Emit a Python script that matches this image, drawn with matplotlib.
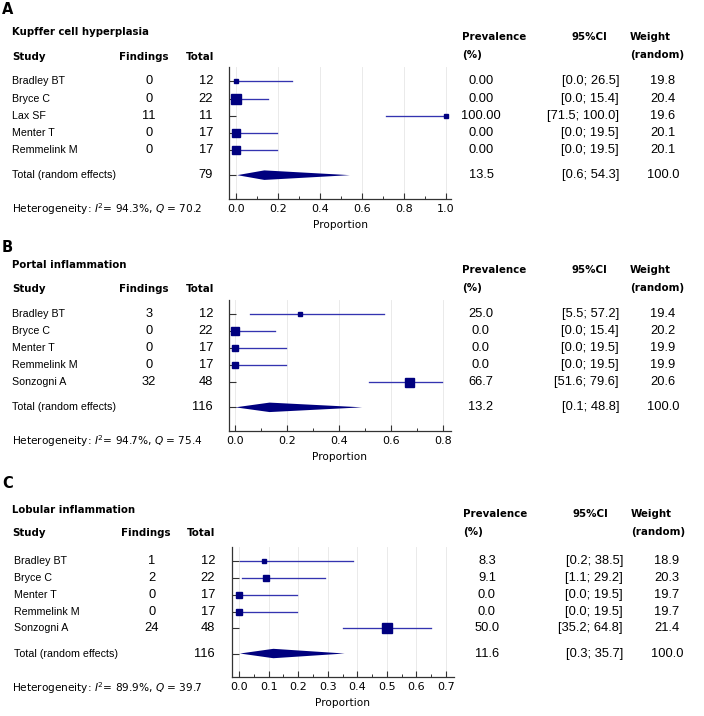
import matplotlib
matplotlib.use("Agg")
import matplotlib.pyplot as plt
import matplotlib.transforms as mtransforms
from matplotlib.ticker import MultipleLocator, FormatStrFormatter
import numpy as np

# ---- data ----
# A: Kupffer cell hyperplasia
a_title = "Kupffer cell hyperplasia"
a_study = ["Bradley BT", "Bryce C", "Lax SF", "Menter T", "Remmelink M"]
a_findings = [0, 0, 11, 0, 0]
a_total = [12, 22, 11, 17, 17]
a_prev = [0.00, 0.00, 100.00, 0.00, 0.00]
a_ci_lo = [0.0, 0.0, 71.5, 0.0, 0.0]
a_ci_hi = [26.5, 15.4, 100.0, 19.5, 19.5]
a_weight = [19.8, 20.4, 19.6, 20.1, 20.1]
a_pooled = [13.5, 0.6, 54.3]   # estimate, lower, upper
a_het = [94.3, 70.2]           # I2, Q

# B: Portal inflammation
b_title = "Portal inflammation"
b_study = ["Bradley BT", "Bryce C", "Menter T", "Remmelink M", "Sonzogni A"]
b_findings = [3, 0, 0, 0, 32]
b_total = [12, 22, 17, 17, 48]
b_prev = [25.0, 0.0, 0.0, 0.0, 66.7]
b_ci_lo = [5.5, 0.0, 0.0, 0.0, 51.6]
b_ci_hi = [57.2, 15.4, 19.5, 19.5, 79.6]
b_weight = [19.4, 20.2, 19.9, 19.9, 20.6]
b_pooled = [13.2, 0.1, 48.8]
b_het = [94.7, 75.4]

# C: Lobular inflammation
c_title = "Lobular inflammation"
c_study = ["Bradley BT", "Bryce C", "Menter T", "Remmelink M", "Sonzogni A"]
c_findings = [1, 2, 0, 0, 24]
c_total = [12, 22, 17, 17, 48]
c_prev = [8.3, 9.1, 0.0, 0.0, 50.0]
c_ci_lo = [0.2, 1.1, 0.0, 0.0, 35.2]
c_ci_hi = [38.5, 29.2, 19.5, 19.5, 64.8]
c_weight = [18.9, 20.3, 19.7, 19.7, 21.4]
c_pooled = [11.6, 0.3, 35.7]
c_het = [89.9, 39.7]

# ---- style ----
W, H = 704, 716
navy = "#00007f"
line_c = "#3434b0"
head_font = "DejaVu Sans"
body_font = "Liberation Sans"


def fx(px):
    return px / W


def fy(py):
    return 1 - py / H


def draw_panel(fig, letter, title, study, findings, total, prev, lo, hi, weight,
               pooled, het, lay, box_px, decimals):
    left, right, top, bottom = lay["axes"]
    ax = fig.add_axes([fx(left), fy(bottom), fx(right - left), (bottom - top) / H])

    n = len(study)
    rows = np.arange(1, n + 1)
    total_y = n + 1.5

    # study rows
    for i in range(n):
        ax.plot([lo[i] / 100, hi[i] / 100], [rows[i], rows[i]], color=line_c,
                lw=0.95, zorder=2, clip_on=False)
        ax.plot(prev[i] / 100, rows[i], marker="s", ms=box_px[i] * 0.72,
                color=navy, mec=navy, zorder=3, clip_on=False)

    # pooled diamond
    est, plo, phi = [v / 100 for v in pooled]
    h = 0.28
    ax.fill([plo, est, phi, est], [total_y, total_y - h, total_y, total_y + h],
            color=navy, lw=0, zorder=3)

    ax.set_xlim(*lay["xlim"])
    ax.set_ylim(7.9, 0.15)
    ax.xaxis.set_major_locator(MultipleLocator(lay["major"]))
    ax.xaxis.set_minor_locator(MultipleLocator(lay["major"] / 2))
    ax.xaxis.set_major_formatter(FormatStrFormatter("%.1f"))
    ax.set_yticks(list(rows) + [total_y])
    ax.tick_params(axis="y", direction="in", length=5, width=0.8,
                   labelleft=False, color="#333333")
    ax.tick_params(axis="x", which="major", direction="in", length=4.5, width=0.8,
                   labelsize=8, pad=3.5, color="#333333")
    ax.tick_params(axis="x", which="minor", direction="in", length=2.5, width=0.7,
                   color="#333333")
    for s in ["top", "right"]:
        ax.spines[s].set_visible(False)
    for s in ["left", "bottom"]:
        ax.spines[s].set_color("#333333")
        ax.spines[s].set_linewidth(0.9)
    ax.grid(axis="x", which="major", color="#e6e6e6", lw=0.6)
    ax.set_axisbelow(True)
    ax.set_xlabel("Proportion", fontsize=7.6, labelpad=4.5)

    # headings
    fig.text(fx(2), fy(lay["letter_y"]), letter, fontsize=10.5, fontweight="bold",
             family=head_font, va="center", ha="left")
    fig.text(fx(12), fy(lay["title_y"]), title, fontsize=7.3, fontweight="bold",
             family=head_font, va="center", ha="left")
    hy = lay["head_y"]
    hk = dict(fontsize=7.4, fontweight="bold", family=head_font, va="center")
    c = lay["cols"]
    fig.text(fx(12), fy(hy), "Study", ha="left", **hk)
    fig.text(fx(c["find_head"]), fy(hy), "Findings", ha="left", **hk)
    fig.text(fx(c["total_head"]), fy(hy), "Total", ha="left", **hk)
    fig.text(fx(c["prev_head"]), fy(lay["head2_y"]), "Prevalence", ha="left", **hk)
    fig.text(fx(c["prev_head"]), fy(lay["head2_y"] + 18), "(%)", ha="left", **hk)
    fig.text(fx(c["ci_head"]), fy(lay["head2_y"]), "95%CI", ha="center", **hk)
    fig.text(fx(c["w_head"]), fy(lay["head2_y"]), "Weight", ha="left", **hk)
    fig.text(fx(c["w_head"]), fy(lay["head2_y"] + 18), "(random)", ha="left", **hk)

    # table rows
    tr = mtransforms.blended_transform_factory(fig.transFigure, ax.transData)
    nk = dict(fontsize=9.3, family=body_font, va="center", transform=tr)
    sk = dict(fontsize=7.7, family=body_font, va="center", transform=tr)
    fmt = "%." + str(decimals) + "f"
    for i in range(n):
        y = rows[i]
        ax.text(fx(c["name"]), y, study[i], ha="left", **sk)
        ax.text(fx(c["find"]), y, str(findings[i]), ha="center", **nk)
        ax.text(fx(c["total"]), y, str(total[i]), ha="right", **nk)
        ax.text(fx(c["prev"]), y, fmt % prev[i], ha="center", **nk)
        ax.text(fx(c["ci"]), y, "[%.1f; %.1f]" % (lo[i], hi[i]), ha="right", **nk)
        ax.text(fx(c["w"]), y, "%.1f" % weight[i], ha="center", **nk)
    ax.text(fx(c["name"]), total_y, "Total (random effects)", ha="left", **sk)
    ax.text(fx(c["total"]), total_y, str(sum(total)), ha="right", **nk)
    ax.text(fx(c["prev"]), total_y, "%.1f" % pooled[0], ha="center", **nk)
    ax.text(fx(c["ci"]), total_y, "[%.1f; %.1f]" % (pooled[1], pooled[2]),
            ha="right", **nk)
    ax.text(fx(c["w"]), total_y, "%.1f" % sum(weight), ha="center", **nk)

    fig.text(fx(12), fy(lay["het_y"]),
             r"Heterogeneity: $\mathit{I}^2$= %.1f%%, $\mathit{Q}$ = %.1f" % (het[0], het[1]),
             fontsize=7.6, family=head_font, va="center", ha="left")
    return ax


fig = plt.figure(figsize=(7.04, 7.16), dpi=100)

cols_ab = dict(name=12, find=149, total=213, prev=481, ci=619, w=663,
               find_head=119, total_head=186, prev_head=462, ci_head=589, w_head=630)
cols_c = dict(name=14.5, find=152, total=215, prev=487, ci=623, w=667,
              find_head=120.5, total_head=186.5, prev_head=463, ci_head=590, w_head=631)

lay_a = dict(axes=(229.3, 450.7, 67, 199), xlim=(-0.032, 1.024), major=0.2,
             letter_y=10, title_y=32, head_y=57, head2_y=37, het_y=209, cols=cols_ab)
lay_b = dict(axes=(228.7, 450.7, 300, 431), xlim=(-0.025, 0.828), major=0.2,
             letter_y=248, title_y=265, head_y=289, head2_y=270, het_y=441, cols=cols_ab)
lay_c = dict(axes=(232, 454, 547, 677), xlim=(-0.024, 0.727), major=0.1,
             letter_y=484, title_y=510, head_y=533, head2_y=514, het_y=688, cols=cols_c)

draw_panel(fig, "A", a_title, a_study, a_findings, a_total, a_prev, a_ci_lo, a_ci_hi,
           a_weight, a_pooled, a_het, lay_a, [4.7, 10, 4, 7.3, 7.3], 2)
draw_panel(fig, "B", b_title, b_study, b_findings, b_total, b_prev, b_ci_lo, b_ci_hi,
           b_weight, b_pooled, b_het, lay_b, [4, 7.3, 5.7, 5.7, 9], 1)
draw_panel(fig, "C", c_title, c_study, c_findings, c_total, c_prev, c_ci_lo, c_ci_hi,
           c_weight, c_pooled, c_het, lay_c, [4, 6, 5.3, 5.3, 9.3], 1)

fig.savefig("out.png", dpi=100)
